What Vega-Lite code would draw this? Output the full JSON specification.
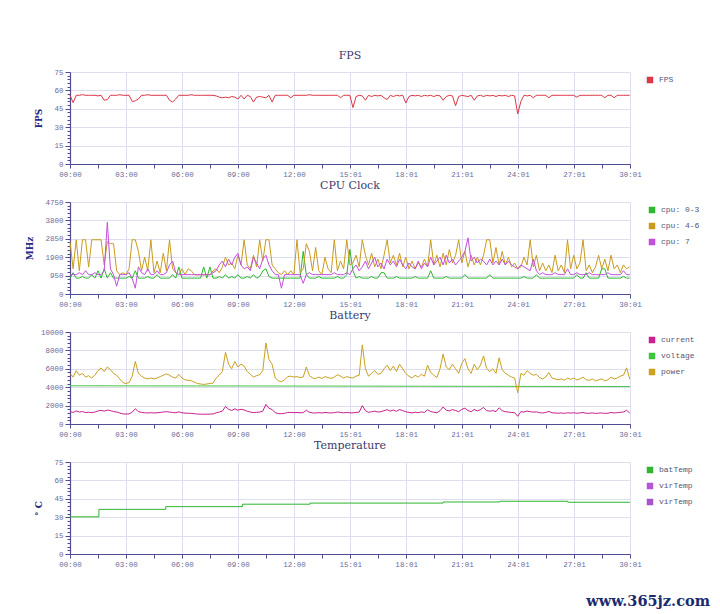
{
  "$schema": "https://vega.github.io/schema/vega-lite/v6.json",
  "background": "white",
  "padding": {"left": 25, "top": 50, "right": 5, "bottom": 5},
  "title": {"text": "www.365jz.com", "orient": "bottom", "anchor": "end", "font": "DejaVu Serif", "fontSize": 14.5, "fontWeight": "bold", "color": "#1c2a6e", "offset": 27, "dx": 6},
  "datasets": {
    "main": [
      {"t":0,"fps":56,"c0":820,"c4":2700,"c7":1000,"cur":1350,"vol":4150,"pow":5500},
      {"t":10,"fps":50,"c0":1100,"c4":1300,"c7":1000,"cur":1250,"vol":4150,"pow":5100},
      {"t":20,"fps":56,"c0":820,"c4":2800,"c7":1000,"cur":1420,"vol":4150,"pow":5800},
      {"t":30,"fps":56,"c0":820,"c4":1200,"c7":1100,"cur":1300,"vol":4150,"pow":5300},
      {"t":40,"fps":56.5,"c0":900,"c4":2800,"c7":1000,"cur":1350,"vol":4150,"pow":5500},
      {"t":50,"fps":56,"c0":820,"c4":2800,"c7":1200,"cur":1250,"vol":4150,"pow":5100},
      {"t":60,"fps":56,"c0":820,"c4":1400,"c7":1000,"cur":1280,"vol":4150,"pow":5250},
      {"t":70,"fps":56,"c0":1000,"c4":2800,"c7":1000,"cur":1230,"vol":4150,"pow":5000},
      {"t":80,"fps":56,"c0":820,"c4":2800,"c7":1100,"cur":1300,"vol":4150,"pow":5300},
      {"t":90,"fps":55.5,"c0":1200,"c4":2800,"c7":1000,"cur":1420,"vol":4150,"pow":5800},
      {"t":100,"fps":56,"c0":820,"c4":2800,"c7":1000,"cur":1480,"vol":4148,"pow":6100},
      {"t":110,"fps":52,"c0":1300,"c4":1500,"c7":1200,"cur":1400,"vol":4148,"pow":5700},
      {"t":120,"fps":52.5,"c0":820,"c4":2700,"c7":3700,"cur":1510,"vol":4148,"pow":6200},
      {"t":130,"fps":56,"c0":1100,"c4":2600,"c7":1300,"cur":1450,"vol":4148,"pow":5900},
      {"t":140,"fps":56,"c0":820,"c4":2600,"c7":1000,"cur":1350,"vol":4146,"pow":5500},
      {"t":150,"fps":56,"c0":820,"c4":1200,"c7":400,"cur":1300,"vol":4146,"pow":5300},
      {"t":160,"fps":56.5,"c0":820,"c4":1000,"c7":1000,"cur":1200,"vol":4146,"pow":4900},
      {"t":170,"fps":56,"c0":820,"c4":1100,"c7":1000,"cur":1100,"vol":4146,"pow":4500},
      {"t":180,"fps":56,"c0":820,"c4":1000,"c7":1000,"cur":1080,"vol":4145,"pow":4400},
      {"t":190,"fps":56,"c0":900,"c4":1300,"c7":1100,"cur":1100,"vol":4145,"pow":4500},
      {"t":200,"fps":51,"c0":820,"c4":2800,"c7":800,"cur":1280,"vol":4145,"pow":5200},
      {"t":210,"fps":51.5,"c0":1200,"c4":2800,"c7":300,"cur":1660,"vol":4145,"pow":6800},
      {"t":220,"fps":53,"c0":820,"c4":2200,"c7":1400,"cur":1350,"vol":4144,"pow":5500},
      {"t":230,"fps":56,"c0":820,"c4":1200,"c7":1100,"cur":1270,"vol":4144,"pow":5200},
      {"t":240,"fps":56,"c0":820,"c4":1900,"c7":1000,"cur":1220,"vol":4144,"pow":5000},
      {"t":250,"fps":56.5,"c0":900,"c4":1200,"c7":1300,"cur":1200,"vol":4143,"pow":4900},
      {"t":260,"fps":56,"c0":820,"c4":2800,"c7":1000,"cur":1230,"vol":4143,"pow":5000},
      {"t":270,"fps":56,"c0":820,"c4":1100,"c7":1000,"cur":1200,"vol":4143,"pow":4900},
      {"t":280,"fps":56,"c0":1000,"c4":1700,"c7":1200,"cur":1220,"vol":4142,"pow":5000},
      {"t":290,"fps":56,"c0":820,"c4":1100,"c7":1000,"cur":1260,"vol":4142,"pow":5150},
      {"t":300,"fps":56,"c0":820,"c4":2100,"c7":1000,"cur":1300,"vol":4142,"pow":5300},
      {"t":310,"fps":56,"c0":820,"c4":1200,"c7":1100,"cur":1340,"vol":4141,"pow":5450},
      {"t":320,"fps":52,"c0":820,"c4":2800,"c7":1500,"cur":1300,"vol":4141,"pow":5300},
      {"t":330,"fps":50.5,"c0":1000,"c4":1300,"c7":1700,"cur":1250,"vol":4141,"pow":5100},
      {"t":340,"fps":53,"c0":820,"c4":1100,"c7":1100,"cur":1230,"vol":4140,"pow":5000},
      {"t":350,"fps":56,"c0":1400,"c4":1000,"c7":1000,"cur":1320,"vol":4140,"pow":5400},
      {"t":360,"fps":56,"c0":820,"c4":1300,"c7":1000,"cur":1220,"vol":4140,"pow":5000},
      {"t":370,"fps":56,"c0":820,"c4":1000,"c7":1000,"cur":1180,"vol":4139,"pow":4800},
      {"t":380,"fps":56,"c0":820,"c4":1300,"c7":1000,"cur":1170,"vol":4139,"pow":4750},
      {"t":390,"fps":56.5,"c0":820,"c4":1200,"c7":1000,"cur":1160,"vol":4139,"pow":4700},
      {"t":400,"fps":56,"c0":820,"c4":1000,"c7":1000,"cur":1120,"vol":4138,"pow":4550},
      {"t":410,"fps":56,"c0":820,"c4":980,"c7":1000,"cur":1080,"vol":4138,"pow":4400},
      {"t":420,"fps":56,"c0":820,"c4":1000,"c7":1000,"cur":1070,"vol":4138,"pow":4350},
      {"t":430,"fps":56,"c0":1400,"c4":980,"c7":1000,"cur":1060,"vol":4137,"pow":4300},
      {"t":440,"fps":56,"c0":820,"c4":1000,"c7":1000,"cur":1070,"vol":4137,"pow":4350},
      {"t":450,"fps":56,"c0":1400,"c4":980,"c7":1000,"cur":1080,"vol":4137,"pow":4400},
      {"t":460,"fps":56,"c0":820,"c4":1200,"c7":1100,"cur":1090,"vol":4136,"pow":4450},
      {"t":470,"fps":55.5,"c0":820,"c4":1300,"c7":1200,"cur":1220,"vol":4136,"pow":5000},
      {"t":480,"fps":54.5,"c0":900,"c4":1100,"c7":1500,"cur":1300,"vol":4136,"pow":5300},
      {"t":490,"fps":54,"c0":820,"c4":1400,"c7":1700,"cur":1400,"vol":4135,"pow":5700},
      {"t":500,"fps":54.5,"c0":1000,"c4":1900,"c7":1400,"cur":1900,"vol":4135,"pow":7800},
      {"t":510,"fps":54,"c0":820,"c4":1500,"c7":1800,"cur":1600,"vol":4135,"pow":6500},
      {"t":520,"fps":55,"c0":900,"c4":1600,"c7":1500,"cur":1470,"vol":4134,"pow":6000},
      {"t":530,"fps":54.5,"c0":820,"c4":1300,"c7":1900,"cur":1650,"vol":4134,"pow":6800},
      {"t":540,"fps":53,"c0":1000,"c4":2000,"c7":2100,"cur":1500,"vol":4134,"pow":6200},
      {"t":550,"fps":56,"c0":820,"c4":1500,"c7":1500,"cur":1600,"vol":4133,"pow":6500},
      {"t":560,"fps":53,"c0":820,"c4":2800,"c7":1300,"cur":1530,"vol":4133,"pow":6300},
      {"t":570,"fps":56,"c0":900,"c4":1500,"c7":1400,"cur":1380,"vol":4132,"pow":5700},
      {"t":580,"fps":55,"c0":820,"c4":1300,"c7":1200,"cur":1300,"vol":4132,"pow":5400},
      {"t":590,"fps":50.5,"c0":1000,"c4":2000,"c7":1900,"cur":1230,"vol":4131,"pow":5100},
      {"t":600,"fps":54.5,"c0":820,"c4":1400,"c7":1600,"cur":1270,"vol":4131,"pow":5250},
      {"t":610,"fps":55,"c0":900,"c4":2800,"c7":1300,"cur":1300,"vol":4130,"pow":5350},
      {"t":620,"fps":54.5,"c0":1200,"c4":1700,"c7":1800,"cur":1400,"vol":4130,"pow":5800},
      {"t":630,"fps":54,"c0":1300,"c4":2800,"c7":2000,"cur":2130,"vol":4130,"pow":8800},
      {"t":640,"fps":56,"c0":900,"c4":2800,"c7":1500,"cur":1700,"vol":4129,"pow":7000},
      {"t":650,"fps":50.5,"c0":820,"c4":1500,"c7":1200,"cur":1580,"vol":4129,"pow":6500},
      {"t":660,"fps":56,"c0":820,"c4":1300,"c7":1000,"cur":1220,"vol":4128,"pow":5000},
      {"t":670,"fps":56,"c0":820,"c4":1100,"c7":1000,"cur":1140,"vol":4128,"pow":4700},
      {"t":680,"fps":56,"c0":820,"c4":1000,"c7":300,"cur":1120,"vol":4128,"pow":4600},
      {"t":690,"fps":56,"c0":820,"c4":1200,"c7":1000,"cur":1160,"vol":4127,"pow":4800},
      {"t":700,"fps":56,"c0":820,"c4":1000,"c7":1000,"cur":1250,"vol":4127,"pow":5150},
      {"t":710,"fps":54,"c0":820,"c4":1200,"c7":1000,"cur":1260,"vol":4126,"pow":5200},
      {"t":720,"fps":56,"c0":820,"c4":1000,"c7":1000,"cur":1230,"vol":4126,"pow":5100},
      {"t":730,"fps":56,"c0":820,"c4":2800,"c7":1000,"cur":1250,"vol":4125,"pow":5150},
      {"t":740,"fps":56,"c0":820,"c4":1100,"c7":1000,"cur":1220,"vol":4125,"pow":5050},
      {"t":750,"fps":56,"c0":2200,"c4":1300,"c7":550,"cur":1230,"vol":4124,"pow":5100},
      {"t":760,"fps":56,"c0":1000,"c4":2600,"c7":1000,"cur":1500,"vol":4124,"pow":6200},
      {"t":770,"fps":56.5,"c0":820,"c4":2200,"c7":1100,"cur":1270,"vol":4123,"pow":5250},
      {"t":780,"fps":56,"c0":820,"c4":1200,"c7":1000,"cur":1210,"vol":4123,"pow":5000},
      {"t":790,"fps":56,"c0":820,"c4":2400,"c7":1000,"cur":1200,"vol":4122,"pow":4950},
      {"t":800,"fps":56,"c0":900,"c4":1200,"c7":1000,"cur":1230,"vol":4122,"pow":5100},
      {"t":810,"fps":56,"c0":820,"c4":1000,"c7":1000,"cur":1200,"vol":4121,"pow":4950},
      {"t":820,"fps":56,"c0":820,"c4":1900,"c7":1000,"cur":1250,"vol":4121,"pow":5150},
      {"t":830,"fps":56,"c0":820,"c4":1300,"c7":1000,"cur":1220,"vol":4120,"pow":5050},
      {"t":840,"fps":56,"c0":820,"c4":1100,"c7":1000,"cur":1200,"vol":4120,"pow":4950},
      {"t":850,"fps":56,"c0":820,"c4":2800,"c7":1100,"cur":1240,"vol":4119,"pow":5100},
      {"t":860,"fps":56,"c0":900,"c4":1200,"c7":1000,"cur":1300,"vol":4119,"pow":5350},
      {"t":870,"fps":54,"c0":820,"c4":1700,"c7":1000,"cur":1260,"vol":4118,"pow":5200},
      {"t":880,"fps":56,"c0":820,"c4":1300,"c7":1000,"cur":1210,"vol":4118,"pow":5000},
      {"t":890,"fps":56,"c0":1000,"c4":2800,"c7":1100,"cur":1250,"vol":4117,"pow":5150},
      {"t":900,"fps":56,"c0":2300,"c4":1500,"c7":1000,"cur":1220,"vol":4117,"pow":5050},
      {"t":910,"fps":46,"c0":1200,"c4":1600,"c7":1300,"cur":1210,"vol":4116,"pow":5000},
      {"t":920,"fps":55,"c0":820,"c4":2000,"c7":1500,"cur":1260,"vol":4116,"pow":5200},
      {"t":930,"fps":56,"c0":900,"c4":1400,"c7":1200,"cur":1290,"vol":4115,"pow":5300},
      {"t":940,"fps":55.5,"c0":820,"c4":2800,"c7":1400,"cur":2000,"vol":4115,"pow":8600},
      {"t":950,"fps":52,"c0":820,"c4":2000,"c7":1700,"cur":1450,"vol":4114,"pow":6000},
      {"t":960,"fps":56,"c0":820,"c4":1500,"c7":1300,"cur":1270,"vol":4114,"pow":5200},
      {"t":970,"fps":55,"c0":900,"c4":2100,"c7":1600,"cur":1330,"vol":4113,"pow":5500},
      {"t":980,"fps":56,"c0":820,"c4":1400,"c7":1900,"cur":1400,"vol":4113,"pow":5800},
      {"t":990,"fps":55.5,"c0":820,"c4":1800,"c7":1400,"cur":1300,"vol":4112,"pow":5400},
      {"t":1000,"fps":56,"c0":1100,"c4":1300,"c7":1600,"cur":1340,"vol":4112,"pow":5500},
      {"t":1010,"fps":54,"c0":1100,"c4":2000,"c7":1300,"cur":1450,"vol":4111,"pow":6000},
      {"t":1020,"fps":52.5,"c0":820,"c4":2800,"c7":1800,"cur":1550,"vol":4111,"pow":6400},
      {"t":1030,"fps":56,"c0":820,"c4":1600,"c7":1500,"cur":1400,"vol":4110,"pow":5800},
      {"t":1040,"fps":55,"c0":820,"c4":2000,"c7":1700,"cur":1520,"vol":4110,"pow":6300},
      {"t":1050,"fps":56,"c0":900,"c4":1500,"c7":1400,"cur":1380,"vol":4109,"pow":5700},
      {"t":1060,"fps":55.5,"c0":820,"c4":2100,"c7":1800,"cur":1580,"vol":4109,"pow":6500},
      {"t":1070,"fps":56,"c0":820,"c4":1400,"c7":1500,"cur":1450,"vol":4108,"pow":6000},
      {"t":1080,"fps":49.7,"c0":820,"c4":1900,"c7":1300,"cur":1330,"vol":4108,"pow":5500},
      {"t":1090,"fps":55,"c0":820,"c4":1300,"c7":1600,"cur":1260,"vol":4107,"pow":5200},
      {"t":1100,"fps":56,"c0":820,"c4":1700,"c7":1400,"cur":1210,"vol":4107,"pow":5000},
      {"t":1110,"fps":55.5,"c0":900,"c4":1300,"c7":1300,"cur":1280,"vol":4106,"pow":5300},
      {"t":1120,"fps":56,"c0":820,"c4":1600,"c7":1700,"cur":1230,"vol":4106,"pow":5100},
      {"t":1130,"fps":55,"c0":820,"c4":1400,"c7":1300,"cur":1310,"vol":4105,"pow":5400},
      {"t":1140,"fps":56,"c0":820,"c4":1800,"c7":1600,"cur":1260,"vol":4105,"pow":5200},
      {"t":1150,"fps":55.5,"c0":820,"c4":1400,"c7":1400,"cur":1550,"vol":4104,"pow":6400},
      {"t":1160,"fps":56,"c0":1200,"c4":2800,"c7":1900,"cur":1350,"vol":4104,"pow":5600},
      {"t":1170,"fps":55,"c0":820,"c4":1500,"c7":1500,"cur":1280,"vol":4103,"pow":5300},
      {"t":1180,"fps":56,"c0":820,"c4":2000,"c7":1700,"cur":1220,"vol":4103,"pow":5050},
      {"t":1190,"fps":55.5,"c0":820,"c4":1400,"c7":1900,"cur":1450,"vol":4102,"pow":6000},
      {"t":1200,"fps":52,"c0":820,"c4":2100,"c7":1500,"cur":1850,"vol":4102,"pow":7600},
      {"t":1210,"fps":55,"c0":900,"c4":1500,"c7":2000,"cur":1500,"vol":4101,"pow":6200},
      {"t":1220,"fps":56,"c0":820,"c4":2300,"c7":1600,"cur":1420,"vol":4101,"pow":5900},
      {"t":1230,"fps":55.5,"c0":820,"c4":1600,"c7":1800,"cur":1570,"vol":4100,"pow":6500},
      {"t":1240,"fps":47.5,"c0":820,"c4":2000,"c7":1500,"cur":1460,"vol":4100,"pow":6000},
      {"t":1250,"fps":55,"c0":820,"c4":2800,"c7":1700,"cur":1340,"vol":4099,"pow":5500},
      {"t":1260,"fps":56,"c0":820,"c4":1600,"c7":1900,"cur":1590,"vol":4099,"pow":6600},
      {"t":1270,"fps":55.5,"c0":1000,"c4":2200,"c7":2200,"cur":1720,"vol":4098,"pow":7100},
      {"t":1280,"fps":55,"c0":820,"c4":1400,"c7":2900,"cur":1460,"vol":4098,"pow":6000},
      {"t":1290,"fps":56,"c0":820,"c4":2000,"c7":1700,"cur":1340,"vol":4097,"pow":5500},
      {"t":1300,"fps":52,"c0":820,"c4":1500,"c7":1900,"cur":1580,"vol":4097,"pow":6500},
      {"t":1310,"fps":55.5,"c0":820,"c4":1900,"c7":1600,"cur":1430,"vol":4096,"pow":5900},
      {"t":1320,"fps":56,"c0":820,"c4":1500,"c7":1800,"cur":1560,"vol":4096,"pow":6400},
      {"t":1330,"fps":55,"c0":820,"c4":2000,"c7":1700,"cur":1800,"vol":4095,"pow":7400},
      {"t":1340,"fps":56,"c0":820,"c4":2800,"c7":1500,"cur":1460,"vol":4095,"pow":6000},
      {"t":1350,"fps":55.5,"c0":1000,"c4":2800,"c7":1800,"cur":1390,"vol":4094,"pow":5700},
      {"t":1360,"fps":56,"c0":820,"c4":1600,"c7":1500,"cur":1460,"vol":4094,"pow":6000},
      {"t":1370,"fps":55,"c0":820,"c4":2400,"c7":1700,"cur":1340,"vol":4093,"pow":5500},
      {"t":1380,"fps":56,"c0":820,"c4":1500,"c7":1500,"cur":1760,"vol":4093,"pow":7200},
      {"t":1390,"fps":55.5,"c0":820,"c4":2200,"c7":1800,"cur":1440,"vol":4092,"pow":5900},
      {"t":1400,"fps":56,"c0":820,"c4":1500,"c7":1500,"cur":1340,"vol":4092,"pow":5500},
      {"t":1410,"fps":55,"c0":820,"c4":1900,"c7":1700,"cur":1300,"vol":4091,"pow":5300},
      {"t":1420,"fps":56,"c0":820,"c4":1400,"c7":1500,"cur":1250,"vol":4091,"pow":5100},
      {"t":1430,"fps":55.5,"c0":820,"c4":1600,"c7":1400,"cur":1230,"vol":4090,"pow":5000},
      {"t":1440,"fps":40.8,"c0":820,"c4":1300,"c7":1300,"cur":840,"vol":4090,"pow":3400},
      {"t":1450,"fps":51,"c0":820,"c4":1400,"c7":1500,"cur":1340,"vol":4089,"pow":5500},
      {"t":1460,"fps":56,"c0":900,"c4":1900,"c7":1400,"cur":1300,"vol":4089,"pow":5300},
      {"t":1470,"fps":55.5,"c0":820,"c4":1500,"c7":1300,"cur":1410,"vol":4088,"pow":5800},
      {"t":1480,"fps":56,"c0":820,"c4":2800,"c7":1200,"cur":1340,"vol":4088,"pow":5500},
      {"t":1490,"fps":54,"c0":820,"c4":1400,"c7":1800,"cur":1290,"vol":4087,"pow":5300},
      {"t":1500,"fps":56,"c0":1000,"c4":2000,"c7":1200,"cur":1320,"vol":4087,"pow":5400},
      {"t":1510,"fps":56,"c0":820,"c4":1200,"c7":1000,"cur":1230,"vol":4086,"pow":5050},
      {"t":1520,"fps":56,"c0":820,"c4":1600,"c7":1100,"cur":1200,"vol":4086,"pow":4900},
      {"t":1530,"fps":56,"c0":820,"c4":1200,"c7":1000,"cur":1250,"vol":4085,"pow":5100},
      {"t":1540,"fps":54,"c0":820,"c4":1500,"c7":1000,"cur":1370,"vol":4085,"pow":5600},
      {"t":1550,"fps":56,"c0":820,"c4":1100,"c7":1000,"cur":1220,"vol":4084,"pow":5000},
      {"t":1560,"fps":56,"c0":820,"c4":2000,"c7":1100,"cur":1200,"vol":4084,"pow":4900},
      {"t":1570,"fps":56,"c0":820,"c4":1200,"c7":1000,"cur":1170,"vol":4083,"pow":4800},
      {"t":1580,"fps":56,"c0":820,"c4":1500,"c7":1000,"cur":1200,"vol":4083,"pow":4900},
      {"t":1590,"fps":56,"c0":820,"c4":1100,"c7":1000,"cur":1160,"vol":4082,"pow":4750},
      {"t":1600,"fps":56,"c0":820,"c4":2800,"c7":1300,"cur":1220,"vol":4082,"pow":5000},
      {"t":1610,"fps":56,"c0":820,"c4":1300,"c7":1000,"cur":1190,"vol":4081,"pow":4850},
      {"t":1620,"fps":56,"c0":820,"c4":2000,"c7":1000,"cur":1220,"vol":4081,"pow":5000},
      {"t":1630,"fps":54.5,"c0":1000,"c4":1300,"c7":1100,"cur":1170,"vol":4080,"pow":4800},
      {"t":1640,"fps":56,"c0":820,"c4":1600,"c7":1000,"cur":1200,"vol":4080,"pow":4900},
      {"t":1650,"fps":56,"c0":820,"c4":2800,"c7":1000,"cur":1250,"vol":4079,"pow":5100},
      {"t":1660,"fps":56,"c0":1100,"c4":1200,"c7":1000,"cur":1170,"vol":4079,"pow":4800},
      {"t":1670,"fps":56,"c0":820,"c4":1500,"c7":1100,"cur":1160,"vol":4078,"pow":4750},
      {"t":1680,"fps":56,"c0":820,"c4":1100,"c7":1000,"cur":1200,"vol":4078,"pow":4900},
      {"t":1690,"fps":56,"c0":820,"c4":1400,"c7":1000,"cur":1150,"vol":4077,"pow":4700},
      {"t":1700,"fps":56,"c0":820,"c4":2000,"c7":1000,"cur":1180,"vol":4077,"pow":4800},
      {"t":1710,"fps":56,"c0":1300,"c4":1300,"c7":1000,"cur":1200,"vol":4076,"pow":4900},
      {"t":1720,"fps":54,"c0":1300,"c4":1800,"c7":1000,"cur":1150,"vol":4076,"pow":4700},
      {"t":1730,"fps":56,"c0":820,"c4":1200,"c7":1100,"cur":1180,"vol":4075,"pow":4800},
      {"t":1740,"fps":56,"c0":820,"c4":2000,"c7":1000,"cur":1250,"vol":4075,"pow":5100},
      {"t":1750,"fps":54,"c0":820,"c4":1300,"c7":1000,"cur":1200,"vol":4074,"pow":4900},
      {"t":1760,"fps":56,"c0":820,"c4":1500,"c7":1000,"cur":1230,"vol":4074,"pow":5000},
      {"t":1770,"fps":56,"c0":820,"c4":1100,"c7":1000,"cur":1270,"vol":4073,"pow":5200},
      {"t":1780,"fps":56,"c0":900,"c4":1500,"c7":1200,"cur":1300,"vol":4073,"pow":5300},
      {"t":1790,"fps":56,"c0":820,"c4":1300,"c7":1000,"cur":1490,"vol":4072,"pow":6100},
      {"t":1800,"fps":56,"c0":820,"c4":1400,"c7":1000,"cur":1200,"vol":4072,"pow":4900}
    ],
    "temp": [
      {"t":0,"temp":30.3},
      {"t":93,"temp":36.4},
      {"t":308,"temp":38.6},
      {"t":555,"temp":40.6},
      {"t":772,"temp":41.5},
      {"t":1200,"temp":42.4},
      {"t":1383,"temp":43},
      {"t":1601,"temp":42.2},
      {"t":1801,"temp":42.2}
    ]
  },
  "spacing": 2,
  "vconcat": [
    {
      "title": "FPS",
      "width": 560, "height": 92,
      "data": {"name": "main"},
      "mark": {"type": "line", "strokeWidth": 1},
      "encoding": {
        "x": {"field": "t", "type": "quantitative", "scale": {"domain": [0, 1801], "nice": false},
          "axis": {"title": null, "values": [0,90,180,270,360,450,540,630,720,810,901,991,1081,1171,1261,1351,1441,1531,1621,1711,1801],
            "labelExpr": "indexof([0,180,360,540,720,901,1081,1261,1441,1621,1801], datum.value) >= 0 ? ((floor(datum.value/60) < 10 ? '0' : '') + floor(datum.value/60) + ':' + (datum.value % 60 < 10 ? '0' : '') + (datum.value % 60)) : ''",
            "gridOpacity": {"condition": {"test": "indexof([0,180,360,540,720,901,1081,1261,1441,1621,1801], datum.value) < 0", "value": 0}, "value": 1}}},
        "y": {"field": "fps", "type": "quantitative", "scale": {"domain": [0, 75], "nice": false},
          "axis": {"title": "FPS", "values": [0,3,6,9,12,15,18,21,24,27,30,33,36,39,42,45,48,51,54,57,60,63,66,69,72,75],
            "labelExpr": "datum.value % 15 === 0 ? datum.label : ''",
            "gridOpacity": {"condition": {"test": "datum.value % 15 !== 0", "value": 0}, "value": 1},
            "tickSize": {"condition": {"test": "datum.value % 15 !== 0", "value": 3}, "value": 5}}},
        "color": {"datum": "FPS", "scale": {"domain": ["FPS"], "range": ["#dc3545"]}, "legend": {"title": null}}
      }
    },
    {
      "title": "CPU Clock",
      "width": 560, "height": 92,
      "data": {"name": "main"},
      "transform": [{"fold": ["c0", "c4", "c7"], "as": ["series", "value"]}],
      "mark": {"type": "line", "strokeWidth": 1},
      "encoding": {
        "x": {"field": "t", "type": "quantitative", "scale": {"domain": [0, 1801], "nice": false},
          "axis": {"title": null, "values": [0,90,180,270,360,450,540,630,720,810,901,991,1081,1171,1261,1351,1441,1531,1621,1711,1801],
            "labelExpr": "indexof([0,180,360,540,720,901,1081,1261,1441,1621,1801], datum.value) >= 0 ? ((floor(datum.value/60) < 10 ? '0' : '') + floor(datum.value/60) + ':' + (datum.value % 60 < 10 ? '0' : '') + (datum.value % 60)) : ''",
            "gridOpacity": {"condition": {"test": "indexof([0,180,360,540,720,901,1081,1261,1441,1621,1801], datum.value) < 0", "value": 0}, "value": 1}}},
        "y": {"field": "value", "type": "quantitative", "scale": {"domain": [0, 4750], "nice": false},
          "axis": {"title": "MHz", "values": [0,190,380,570,760,950,1140,1330,1520,1710,1900,2090,2280,2470,2660,2850,3040,3230,3420,3610,3800,3990,4180,4370,4560,4750],
            "labelExpr": "datum.value % 950 === 0 ? datum.label : ''", "format": "d",
            "gridOpacity": {"condition": {"test": "datum.value % 950 !== 0", "value": 0}, "value": 1},
            "tickSize": {"condition": {"test": "datum.value % 950 !== 0", "value": 3}, "value": 5}}},
        "color": {"field": "series", "type": "nominal", "scale": {"domain": ["c0", "c4", "c7"], "range": ["#2cb72c", "#c99a1c", "#c24fdc"]},
          "legend": {"title": null, "labelExpr": "datum.label == 'c0' ? 'cpu: 0-3' : datum.label == 'c4' ? 'cpu: 4-6' : 'cpu: 7'"}}
      }
    },
    {
      "title": "Battery",
      "width": 560, "height": 92,
      "data": {"name": "main"},
      "transform": [{"fold": ["cur", "vol", "pow"], "as": ["series", "value"]}],
      "mark": {"type": "line", "strokeWidth": 1},
      "encoding": {
        "x": {"field": "t", "type": "quantitative", "scale": {"domain": [0, 1801], "nice": false},
          "axis": {"title": null, "values": [0,90,180,270,360,450,540,630,720,810,901,991,1081,1171,1261,1351,1441,1531,1621,1711,1801],
            "labelExpr": "indexof([0,180,360,540,720,901,1081,1261,1441,1621,1801], datum.value) >= 0 ? ((floor(datum.value/60) < 10 ? '0' : '') + floor(datum.value/60) + ':' + (datum.value % 60 < 10 ? '0' : '') + (datum.value % 60)) : ''",
            "gridOpacity": {"condition": {"test": "indexof([0,180,360,540,720,901,1081,1261,1441,1621,1801], datum.value) < 0", "value": 0}, "value": 1}}},
        "y": {"field": "value", "type": "quantitative", "scale": {"domain": [0, 10000], "nice": false},
          "axis": {"title": null, "values": [0,400,800,1200,1600,2000,2400,2800,3200,3600,4000,4400,4800,5200,5600,6000,6400,6800,7200,7600,8000,8400,8800,9200,9600,10000],
            "labelExpr": "datum.value % 2000 === 0 ? datum.label : ''", "format": "d",
            "gridOpacity": {"condition": {"test": "datum.value % 2000 !== 0", "value": 0}, "value": 1},
            "tickSize": {"condition": {"test": "datum.value % 2000 !== 0", "value": 3}, "value": 5}}},
        "color": {"field": "series", "type": "nominal", "scale": {"domain": ["cur", "vol", "pow"], "range": ["#c8208f", "#3cc43c", "#c9a020"]},
          "legend": {"title": null, "labelExpr": "datum.label == 'cur' ? 'current' : datum.label == 'vol' ? 'voltage' : 'power'"}}
      }
    },
    {
      "title": "Temperature",
      "width": 560, "height": 92,
      "data": {"name": "temp"},
      "mark": {"type": "line", "strokeWidth": 1, "interpolate": "step-after"},
      "encoding": {
        "x": {"field": "t", "type": "quantitative", "scale": {"domain": [0, 1801], "nice": false},
          "axis": {"title": null, "values": [0,90,180,270,360,450,540,630,720,810,901,991,1081,1171,1261,1351,1441,1531,1621,1711,1801],
            "labelExpr": "indexof([0,180,360,540,720,901,1081,1261,1441,1621,1801], datum.value) >= 0 ? ((floor(datum.value/60) < 10 ? '0' : '') + floor(datum.value/60) + ':' + (datum.value % 60 < 10 ? '0' : '') + (datum.value % 60)) : ''",
            "gridOpacity": {"condition": {"test": "indexof([0,180,360,540,720,901,1081,1261,1441,1621,1801], datum.value) < 0", "value": 0}, "value": 1}}},
        "y": {"field": "temp", "type": "quantitative", "scale": {"domain": [0, 75], "nice": false},
          "axis": {"title": "° C", "values": [0,3,6,9,12,15,18,21,24,27,30,33,36,39,42,45,48,51,54,57,60,63,66,69,72,75],
            "labelExpr": "datum.value % 15 === 0 ? datum.label : ''",
            "gridOpacity": {"condition": {"test": "datum.value % 15 !== 0", "value": 0}, "value": 1},
            "tickSize": {"condition": {"test": "datum.value % 15 !== 0", "value": 3}, "value": 5}}},
        "color": {"datum": "batTemp", "scale": {"domain": ["batTemp", "virTemp", "virTemp "], "range": ["#2db52d", "#b653d6", "#a653cc"]}, "legend": {"title": null}}
      }
    }
  ],
  "resolve": {"scale": {"color": "independent", "x": "independent", "y": "independent"}, "legend": {"color": "independent"}},
  "config": {
    "view": {"stroke": null},
    "title": {"font": "DejaVu Serif", "fontSize": 11, "fontWeight": "normal", "color": "#3a3a6e", "offset": 7},
    "axis": {"labelFont": "Liberation Mono", "labelFontSize": 7.5, "labelColor": "#6b6b9b", "domainColor": "#4d4d90", "domainWidth": 1.2, "tickColor": "#4d4d90", "gridColor": "#dedeee", "titleFont": "DejaVu Serif", "titleColor": "#2a2a80", "titleFontSize": 9, "titleFontWeight": "bold", "labelOverlap": false, "labelFlush": false, "labelPadding": 2},
    "axisX": {"tickSize": 4},
    "axisY": {"titlePadding": 10},
    "legend": {"orient": "right", "offset": 12, "padding": 4, "symbolType": "square", "symbolSize": 12, "symbolStrokeWidth": 3, "labelFont": "Liberation Mono", "labelFontSize": 8, "labelColor": "#555577", "rowPadding": 0, "labelOffset": 5}
  }
}
